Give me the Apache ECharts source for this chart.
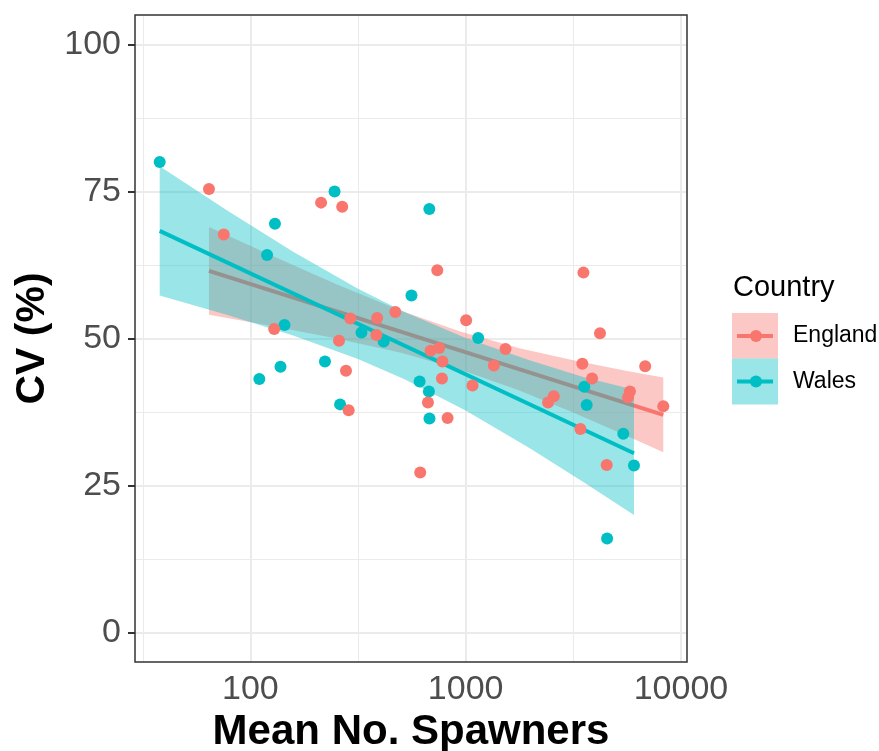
<!DOCTYPE html>
<html>
<head>
<meta charset="utf-8">
<script src="https://cdn.jsdelivr.net/npm/echarts@6/dist/echarts.min.js"></script>
<style>
html,body{margin:0;padding:0;background:#fff;}
#chart{width:879px;height:751px;}
</style>
</head>
<body>
<div id="chart"></div>
<script>
// ---- data (Mean No. Spawners, CV %) ----
const englandSpawners = [64.2,213,267,75.2,291,388,471,129,385,258,278,286,738,3524,1005,4207,1531,687,753,780,1352,3483,6822,776,1076,3865,2566,2415,5795,5679,8280,668,824,3412,4520,615];
const englandCV       = [75.4,73.1,72.4,67.7,53.4,53.5,54.5,51.6,50.6,49.6,44.5,37.8,61.6,61.2,53.1,50.9,48.2,47.9,48.4,46.1,45.4,45.7,45.3,43.2,42.0,43.2,40.2,39.1,41.0,40.0,38.5,39.1,36.5,34.6,28.5,27.2];
const walesSpawners = [37.9,246,130,119.5,560,144,328,416,138,110,222,261,678,1143,611,675,3557,3650,679,5396,6052,4540];
const walesCV       = [80.0,75.0,69.5,64.2,57.3,52.3,51.0,49.5,45.2,43.1,46.1,38.8,72.0,50.1,42.7,41.0,41.8,38.7,36.4,33.8,28.4,16.0];

// fitted lines
const englandFitX = [64.2, 8280];
const englandFitY = [61.5, 37.0];
const walesFitX = [37.9, 6052];
const walesFitY = [68.3, 30.5];

// confidence bands
const englandBandX = [64.2,126,251,501,935,1778,3162,5623,8280];
const englandBandLo = [54.05,52.14,50.02,47.56,44.78,41.16,37.42,33.42,30.65];
const englandBandHi = [68.95,64.08,59.24,54.72,51.22,48.36,46.30,44.48,43.35];
const walesBandX = [37.9,79,158,316,520,1000,1995,3548,6052];
const walesBandLo = [57.3,53.95,50.52,46.53,43.09,37.75,31.30,25.53,20.0];
const walesBandHi = [79.3,71.63,64.76,58.47,54.49,50.09,46.24,43.43,41.3];

// axes
const xTickValues = [100, 1000, 10000];
const xMinorValues = [31.62, 316.2, 3162];
const yTickValues = [0, 25, 50, 75, 100];
const yMinorValues = [12.5, 37.5, 62.5, 87.5];
const xLimits = [29.1, 10670];
const yLimits = [-5, 105];
const countries = ['England', 'Wales'];

const ENG = '#F8766D', WAL = '#00BFC4';
const FONT = '"Liberation Sans", Arial, sans-serif';
const lg = v => Math.log10(v);

function pts(xs, ys) { return xs.map((x, i) => [lg(x), ys[i]]); }

function bandSeries(xs, lo, hi, color, z) {
  const up = pts(xs, hi), dn = pts(xs, lo);
  return {
    type: 'custom', coordinateSystem: 'cartesian2d', z: z, silent: true,
    data: [[lg(xs[0]), lo[0]]],
    renderItem: function (params, api) {
      const p = up.map(d => api.coord(d)).concat(dn.slice().reverse().map(d => api.coord(d)));
      return { type: 'polygon', shape: { points: p }, style: { fill: color } };
    }
  };
}

function gridLines() {
  const major = { color: '#EBEBEB', width: 2, type: 'solid' };
  const minor = { color: '#EBEBEB', width: 1, type: 'solid' };
  const d = [];
  xMinorValues.forEach(v => d.push({ xAxis: lg(v), lineStyle: minor }));
  yMinorValues.forEach(v => d.push({ yAxis: v, lineStyle: minor }));
  xTickValues.forEach(v => d.push({ xAxis: lg(v), lineStyle: major }));
  yTickValues.forEach(v => d.push({ yAxis: v, lineStyle: major }));
  return d;
}

const chart = echarts.init(document.getElementById('chart'), null, { renderer: 'canvas' });
chart.setOption({
  animation: false,
  backgroundColor: '#ffffff',
  textStyle: { fontFamily: FONT },
  grid: { left: 135, right: 192, top: 15, bottom: 89, outerBoundsMode: 'none', containLabel: false,
          show: true, borderColor: '#333333', borderWidth: 1.5, backgroundColor: 'transparent', z: 10 },
  xAxis: {
    type: 'value', min: lg(xLimits[0]), max: lg(xLimits[1]),
    name: 'Mean No. Spawners', nameLocation: 'middle', nameGap: 40,
    nameTextStyle: { fontSize: 42, fontWeight: 'bold', color: '#000', fontFamily: FONT },
    axisLine: { show: false },
    splitLine: { show: false },
    axisTick: { show: true, customValues: xTickValues.map(lg), length: 7, lineStyle: { color: '#333333', width: 2 } },
    axisLabel: { customValues: xTickValues.map(lg), formatter: v => String(Math.round(Math.pow(10, v))), fontSize: 34, color: '#4D4D4D', margin: 11, fontFamily: FONT }
  },
  yAxis: {
    type: 'value', min: yLimits[0], max: yLimits[1],
    name: 'CV (%)', nameLocation: 'middle', nameGap: 77,
    nameTextStyle: { fontSize: 41, fontWeight: 'bold', color: '#000', fontFamily: FONT },
    axisLine: { show: false },
    splitLine: { show: false },
    axisTick: { show: true, customValues: yTickValues, length: 7, lineStyle: { color: '#333333', width: 2 } },
    axisLabel: { customValues: yTickValues, fontSize: 34, color: '#4D4D4D', margin: 14, fontFamily: FONT }
  },
  series: [
    { type: 'scatter', data: [], z: 1, silent: true,
      markLine: { z: 1, silent: true, symbol: ['none', 'none'], label: { show: false }, animation: false, data: gridLines() } },
    bandSeries(englandBandX, englandBandLo, englandBandHi, 'rgba(248,118,109,0.4)', 12),
    { type: 'line', name: 'England fit', data: pts(englandFitX, englandFitY), showSymbol: false, z: 13, silent: true,
      lineStyle: { color: ENG, width: 4 } },
    bandSeries(walesBandX, walesBandLo, walesBandHi, 'rgba(0,191,196,0.4)', 14),
    { type: 'line', name: 'Wales fit', data: pts(walesFitX, walesFitY), showSymbol: false, z: 15, silent: true,
      lineStyle: { color: WAL, width: 4 } },
    { type: 'scatter', name: countries[1], data: pts(walesSpawners, walesCV), symbolSize: 12, z: 16,
      itemStyle: { color: WAL, opacity: 1 } },
    { type: 'scatter', name: countries[0], data: pts(englandSpawners, englandCV), symbolSize: 12, z: 17,
      itemStyle: { color: ENG, opacity: 1 } }
  ],
  graphic: [
    { type: 'text', left: 733, top: 273, style: { text: 'Country', fontSize: 29, fill: '#000', fontFamily: FONT } },
    { type: 'rect', shape: { x: 732, y: 313, width: 46, height: 45.5 }, style: { fill: 'rgba(248,118,109,0.4)' } },
    { type: 'line', shape: { x1: 737, y1: 336, x2: 773, y2: 336 }, style: { stroke: ENG, lineWidth: 4 } },
    { type: 'circle', shape: { cx: 756, cy: 336, r: 6 }, style: { fill: ENG } },
    { type: 'text', x: 793, y: 336, style: { text: countries[0], fontSize: 23, fill: '#000', verticalAlign: 'middle', fontFamily: FONT } },
    { type: 'rect', shape: { x: 732, y: 358.5, width: 46, height: 46 }, style: { fill: 'rgba(0,191,196,0.4)' } },
    { type: 'line', shape: { x1: 737, y1: 381.5, x2: 773, y2: 381.5 }, style: { stroke: WAL, lineWidth: 4 } },
    { type: 'circle', shape: { cx: 756, cy: 381.5, r: 6 }, style: { fill: WAL } },
    { type: 'text', x: 793, y: 381.5, style: { text: countries[1], fontSize: 23, fill: '#000', verticalAlign: 'middle', fontFamily: FONT } }
  ]
});
</script>
</body>
</html>
